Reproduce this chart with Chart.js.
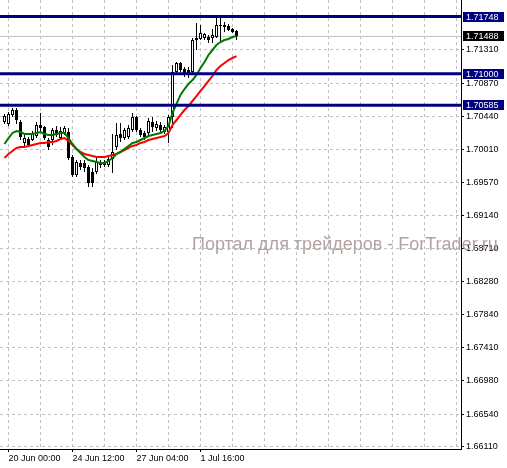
<!DOCTYPE html>
<html>
<head>
<meta charset="utf-8">
<script src="https://cdn.jsdelivr.net/npm/chart.js@4.4.0/dist/chart.umd.min.js"></script>
<style>
  html, body { margin: 0; padding: 0; background: #ffffff; }
  canvas { display: block; }
</style>
</head>
<body>
<canvas id="chart" width="507" height="468"></canvas>
<script>
// H4 candles, one per bar index
const openPrices = [
  1.70367, 1.70341, 1.70459, 1.70524, 1.70367, 1.70092, 1.70144, 1.70131, 1.70183, 1.70328,
  1.70301, 1.70131, 1.70131, 1.70262, 1.70157, 1.70223, 1.70236, 1.69908, 1.69673, 1.69830,
  1.69830, 1.69777, 1.69712, 1.69712, 1.69804, 1.69830, 1.69804, 1.69882, 1.70040, 1.70210,
  1.70157, 1.70170, 1.70262, 1.70432, 1.70262, 1.70223, 1.70223, 1.70367, 1.70288, 1.70328,
  1.70236, 1.70236, 1.70432, 1.71022, 1.71140, 1.71061, 1.71048, 1.71022, 1.71467, 1.71454,
  1.71467, 1.71480, 1.71467, 1.71480, 1.71638, 1.71638, 1.71624, 1.71585, 1.71559
];
const highPrices = [
  1.70472, 1.70498, 1.70550, 1.70550, 1.70393, 1.70197, 1.70170, 1.70249, 1.70367, 1.70485,
  1.70314, 1.70157, 1.70288, 1.70314, 1.70301, 1.70314, 1.70288, 1.69935, 1.69869, 1.69869,
  1.69869, 1.69804, 1.69764, 1.69895, 1.69869, 1.69869, 1.69908, 1.70210, 1.70354, 1.70354,
  1.70288, 1.70328, 1.70485, 1.70445, 1.70288, 1.70249, 1.70419, 1.70432, 1.70380, 1.70367,
  1.70328, 1.70459, 1.71114, 1.71153, 1.71153, 1.71087, 1.71087, 1.71467, 1.71664, 1.71638,
  1.71533, 1.71507, 1.71585, 1.71729, 1.71742, 1.71677, 1.71651, 1.71598, 1.71572
];
const lowPrices = [
  1.70341, 1.70314, 1.70432, 1.70341, 1.70131, 1.70040, 1.70040, 1.70118, 1.70157, 1.70223,
  1.70131, 1.70000, 1.70066, 1.70170, 1.70131, 1.70197, 1.69869, 1.69646, 1.69646, 1.69738,
  1.69712, 1.69515, 1.69515, 1.69686, 1.69764, 1.69777, 1.69777, 1.69699, 1.70000, 1.70105,
  1.70131, 1.70144, 1.70236, 1.70236, 1.70170, 1.70131, 1.70170, 1.70236, 1.70249, 1.70236,
  1.70210, 1.70092, 1.70288, 1.70996, 1.71022, 1.70956, 1.70943, 1.70996, 1.71310, 1.71441,
  1.71441, 1.71402, 1.71402, 1.71467, 1.71415, 1.71546, 1.71559, 1.71533, 1.71441
];
const closePrices = [
  1.70445, 1.70472, 1.70524, 1.70393, 1.70170, 1.70157, 1.70066, 1.70223, 1.70328, 1.70288,
  1.70157, 1.70040, 1.70262, 1.70197, 1.70249, 1.70288, 1.69895, 1.69673, 1.69843, 1.69777,
  1.69764, 1.69568, 1.69568, 1.69843, 1.69843, 1.69804, 1.69882, 1.69974, 1.70197, 1.70157,
  1.70262, 1.70288, 1.70432, 1.70262, 1.70197, 1.70170, 1.70380, 1.70301, 1.70341, 1.70262,
  1.70301, 1.70432, 1.71022, 1.71140, 1.71048, 1.71009, 1.71009, 1.71441, 1.71441, 1.71533,
  1.71520, 1.71441, 1.71507, 1.71638, 1.71624, 1.71611, 1.71572, 1.71546, 1.71488
];

// moving averages (green fast, red slow)
const maFast = [
  1.70079, 1.70157, 1.70223, 1.70249, 1.70236, 1.70210, 1.70210, 1.70210, 1.70223, 1.70236,
  1.70210, 1.70197, 1.70197, 1.70210, 1.70223, 1.70223, 1.70157, 1.70079, 1.70013, 1.69961,
  1.69908, 1.69869, 1.69856, 1.69843, 1.69830, 1.69830, 1.69856, 1.69895, 1.69948, 1.69974,
  1.70013, 1.70053, 1.70092, 1.70105, 1.70131, 1.70157, 1.70183, 1.70197, 1.70210, 1.70223,
  1.70249, 1.70314, 1.70485, 1.70603, 1.70721, 1.70799, 1.70865, 1.70917, 1.70983, 1.71074,
  1.71153, 1.71245, 1.71310, 1.71376, 1.71415, 1.71441, 1.71454, 1.71480, 1.71493
];
const maSlow = [
  1.69895, 1.69948, 1.69987, 1.70027, 1.70040, 1.70040, 1.70053, 1.70066, 1.70079, 1.70092,
  1.70092, 1.70105, 1.70105, 1.70118, 1.70144, 1.70157, 1.70118, 1.70066, 1.70013, 1.69974,
  1.69948, 1.69935, 1.69922, 1.69908, 1.69908, 1.69908, 1.69922, 1.69935, 1.69948, 1.69974,
  1.70000, 1.70027, 1.70053, 1.70066, 1.70092, 1.70105, 1.70131, 1.70144, 1.70157, 1.70170,
  1.70183, 1.70223, 1.70328, 1.70393, 1.70459, 1.70524, 1.70576, 1.70642, 1.70707, 1.70773,
  1.70838, 1.70904, 1.70969, 1.71048, 1.71100, 1.71140, 1.71179, 1.71205, 1.71231
];

const levels = [1.71748, 1.71000, 1.70585];
const bidPrice = 1.71488;

const yTicks = [
  1.66110, 1.66540, 1.66980, 1.67410, 1.67840, 1.68280, 1.68710,
  1.69140, 1.69570, 1.70010, 1.70440, 1.70870, 1.71310
];
const xTickBars = [1, 17, 33, 49];
const xTickLabels = ["20 Jun 00:00", "24 Jun 12:00", "27 Jun 04:00", "1 Jul 16:00"];
const watermark = "Портал для трейдеров - ForTrader.ru";

const xMin = -1.125, xMax = 114.125;
const yMin = 1.66083, yMax = 1.71965;

const bars = openPrices.map((o, i) => i);
const wicks = bars.map((i) => ({ x: i, y: [lowPrices[i], highPrices[i]] }));
const bodies = bars.map((i) => ({ x: i, y: [openPrices[i], closePrices[i]] }));
const isUp = (i) => closePrices[i] >= openPrices[i];

// grid every 8 bars
const gridBars = [];
for (let b = 1; b <= 113; b += 8) gridBars.push(b);

const flatLine = (v) => [{ x: xMin, y: v }, { x: xMax, y: v }];

const overlay = {
  id: "overlay",
  beforeDatasetsDraw(chart) {
    const ctx = chart.ctx;
    ctx.save();
    ctx.font = "18px 'Liberation Sans'";
    ctx.fillStyle = "#b4a2a2";
    ctx.textBaseline = "alphabetic";
    ctx.fillText(watermark, 192, 250);
    ctx.restore();
  },
  afterDraw(chart) {
    const ctx = chart.ctx;
    const yScale = chart.scales.y;
    const right = chart.chartArea.right;
    ctx.save();
    ctx.font = "9px 'Liberation Sans'";
    ctx.textBaseline = "middle";
    const tag = (v, bg) => {
      const py = Math.round(yScale.getPixelForValue(v));
      ctx.fillStyle = bg;
      ctx.fillRect(right + 2, py - 5, 41, 10);
      ctx.fillStyle = "#ffffff";
      ctx.fillText(v.toFixed(5), right + 5, py + 0.5);
    };
    levels.forEach((v) => tag(v, "#000080"));
    tag(bidPrice, "#000000");
    ctx.restore();
  },
};

const ctx = document.getElementById("chart").getContext("2d");
new Chart(ctx, {
  type: "bar",
  data: {
    datasets: [
      {
        type: "line",
        data: flatLine(levels[0]),
        borderColor: "#000080",
        borderWidth: 3,
        pointRadius: 0,
        order: 1,
      },
      {
        type: "line",
        data: flatLine(levels[1]),
        borderColor: "#000080",
        borderWidth: 3,
        pointRadius: 0,
        order: 1,
      },
      {
        type: "line",
        data: flatLine(levels[2]),
        borderColor: "#000080",
        borderWidth: 3,
        pointRadius: 0,
        order: 1,
      },
      {
        type: "line",
        data: bars.map((i) => ({ x: i, y: maFast[i] })),
        borderColor: "#007800",
        borderWidth: 2,
        pointRadius: 0,
        order: 2,
      },
      {
        type: "line",
        data: bars.map((i) => ({ x: i, y: maSlow[i] })),
        borderColor: "#ff0000",
        borderWidth: 2,
        pointRadius: 0,
        order: 2,
      },
      {
        data: bodies,
        backgroundColor: (c) => (isUp(c.dataIndex) ? "#ffffff" : "#000000"),
        borderColor: "#000000",
        borderWidth: 1,
        borderSkipped: false,
        barThickness: 3,
        grouped: false,
        inflateAmount: 0,
        order: 3,
      },
      {
        data: wicks,
        backgroundColor: "#000000",
        borderWidth: 0,
        borderSkipped: false,
        barThickness: 1,
        grouped: false,
        inflateAmount: 0,
        order: 4,
      },
      {
        type: "line",
        data: flatLine(bidPrice),
        borderColor: "#c0c0c0",
        borderWidth: 1,
        pointRadius: 0,
        order: 5,
      },
    ],
  },
  options: {
    responsive: false,
    animation: false,
    layout: { padding: 0 },
    plugins: {
      legend: { display: false },
      tooltip: { enabled: false },
    },
    scales: {
      x: {
        type: "linear",
        offset: false,
        min: xMin,
        max: xMax,
        afterBuildTicks: (scale) => {
          scale.ticks = gridBars.map((b) => ({ value: b }));
        },
        afterFit: (scale) => {
          scale.height = 19;
          scale.paddingLeft = 0;
          scale.paddingRight = 0;
        },
        grid: {
          offset: false,
          color: "#c0c0c0",
          tickColor: (c) =>
            xTickBars.includes(c.tick && c.tick.value) ? "#000000" : "rgba(0,0,0,0)",
          tickLength: 3,
        },
        border: { display: true, color: "#000000", width: 1, dash: [3, 3] },
        ticks: {
          autoSkip: false,
          maxRotation: 0,
          align: "start",
          padding: 1,
          color: "#000000",
          font: { family: "'Liberation Sans'", size: 9 },
          callback: (v) => {
            const k = xTickBars.indexOf(v);
            return k >= 0 ? xTickLabels[k] : "";
          },
        },
      },
      y: {
        type: "linear",
        position: "right",
        min: yMin,
        max: yMax,
        afterBuildTicks: (scale) => {
          scale.ticks = yTicks.map((v) => ({ value: v }));
        },
        afterFit: (scale) => {
          scale.width = 46;
          scale.paddingTop = 0;
          scale.paddingBottom = 0;
        },
        grid: {
          color: "#c0c0c0",
          tickColor: "#000000",
          tickLength: 3,
        },
        border: { display: true, color: "#000000", width: 1, dash: [3, 3] },
        ticks: {
          padding: 2,
          color: "#000000",
          font: { family: "'Liberation Sans'", size: 9 },
          callback: (v) => Number(v).toFixed(5),
        },
      },
    },
  },
  plugins: [overlay],
});
</script>
</body>
</html>
